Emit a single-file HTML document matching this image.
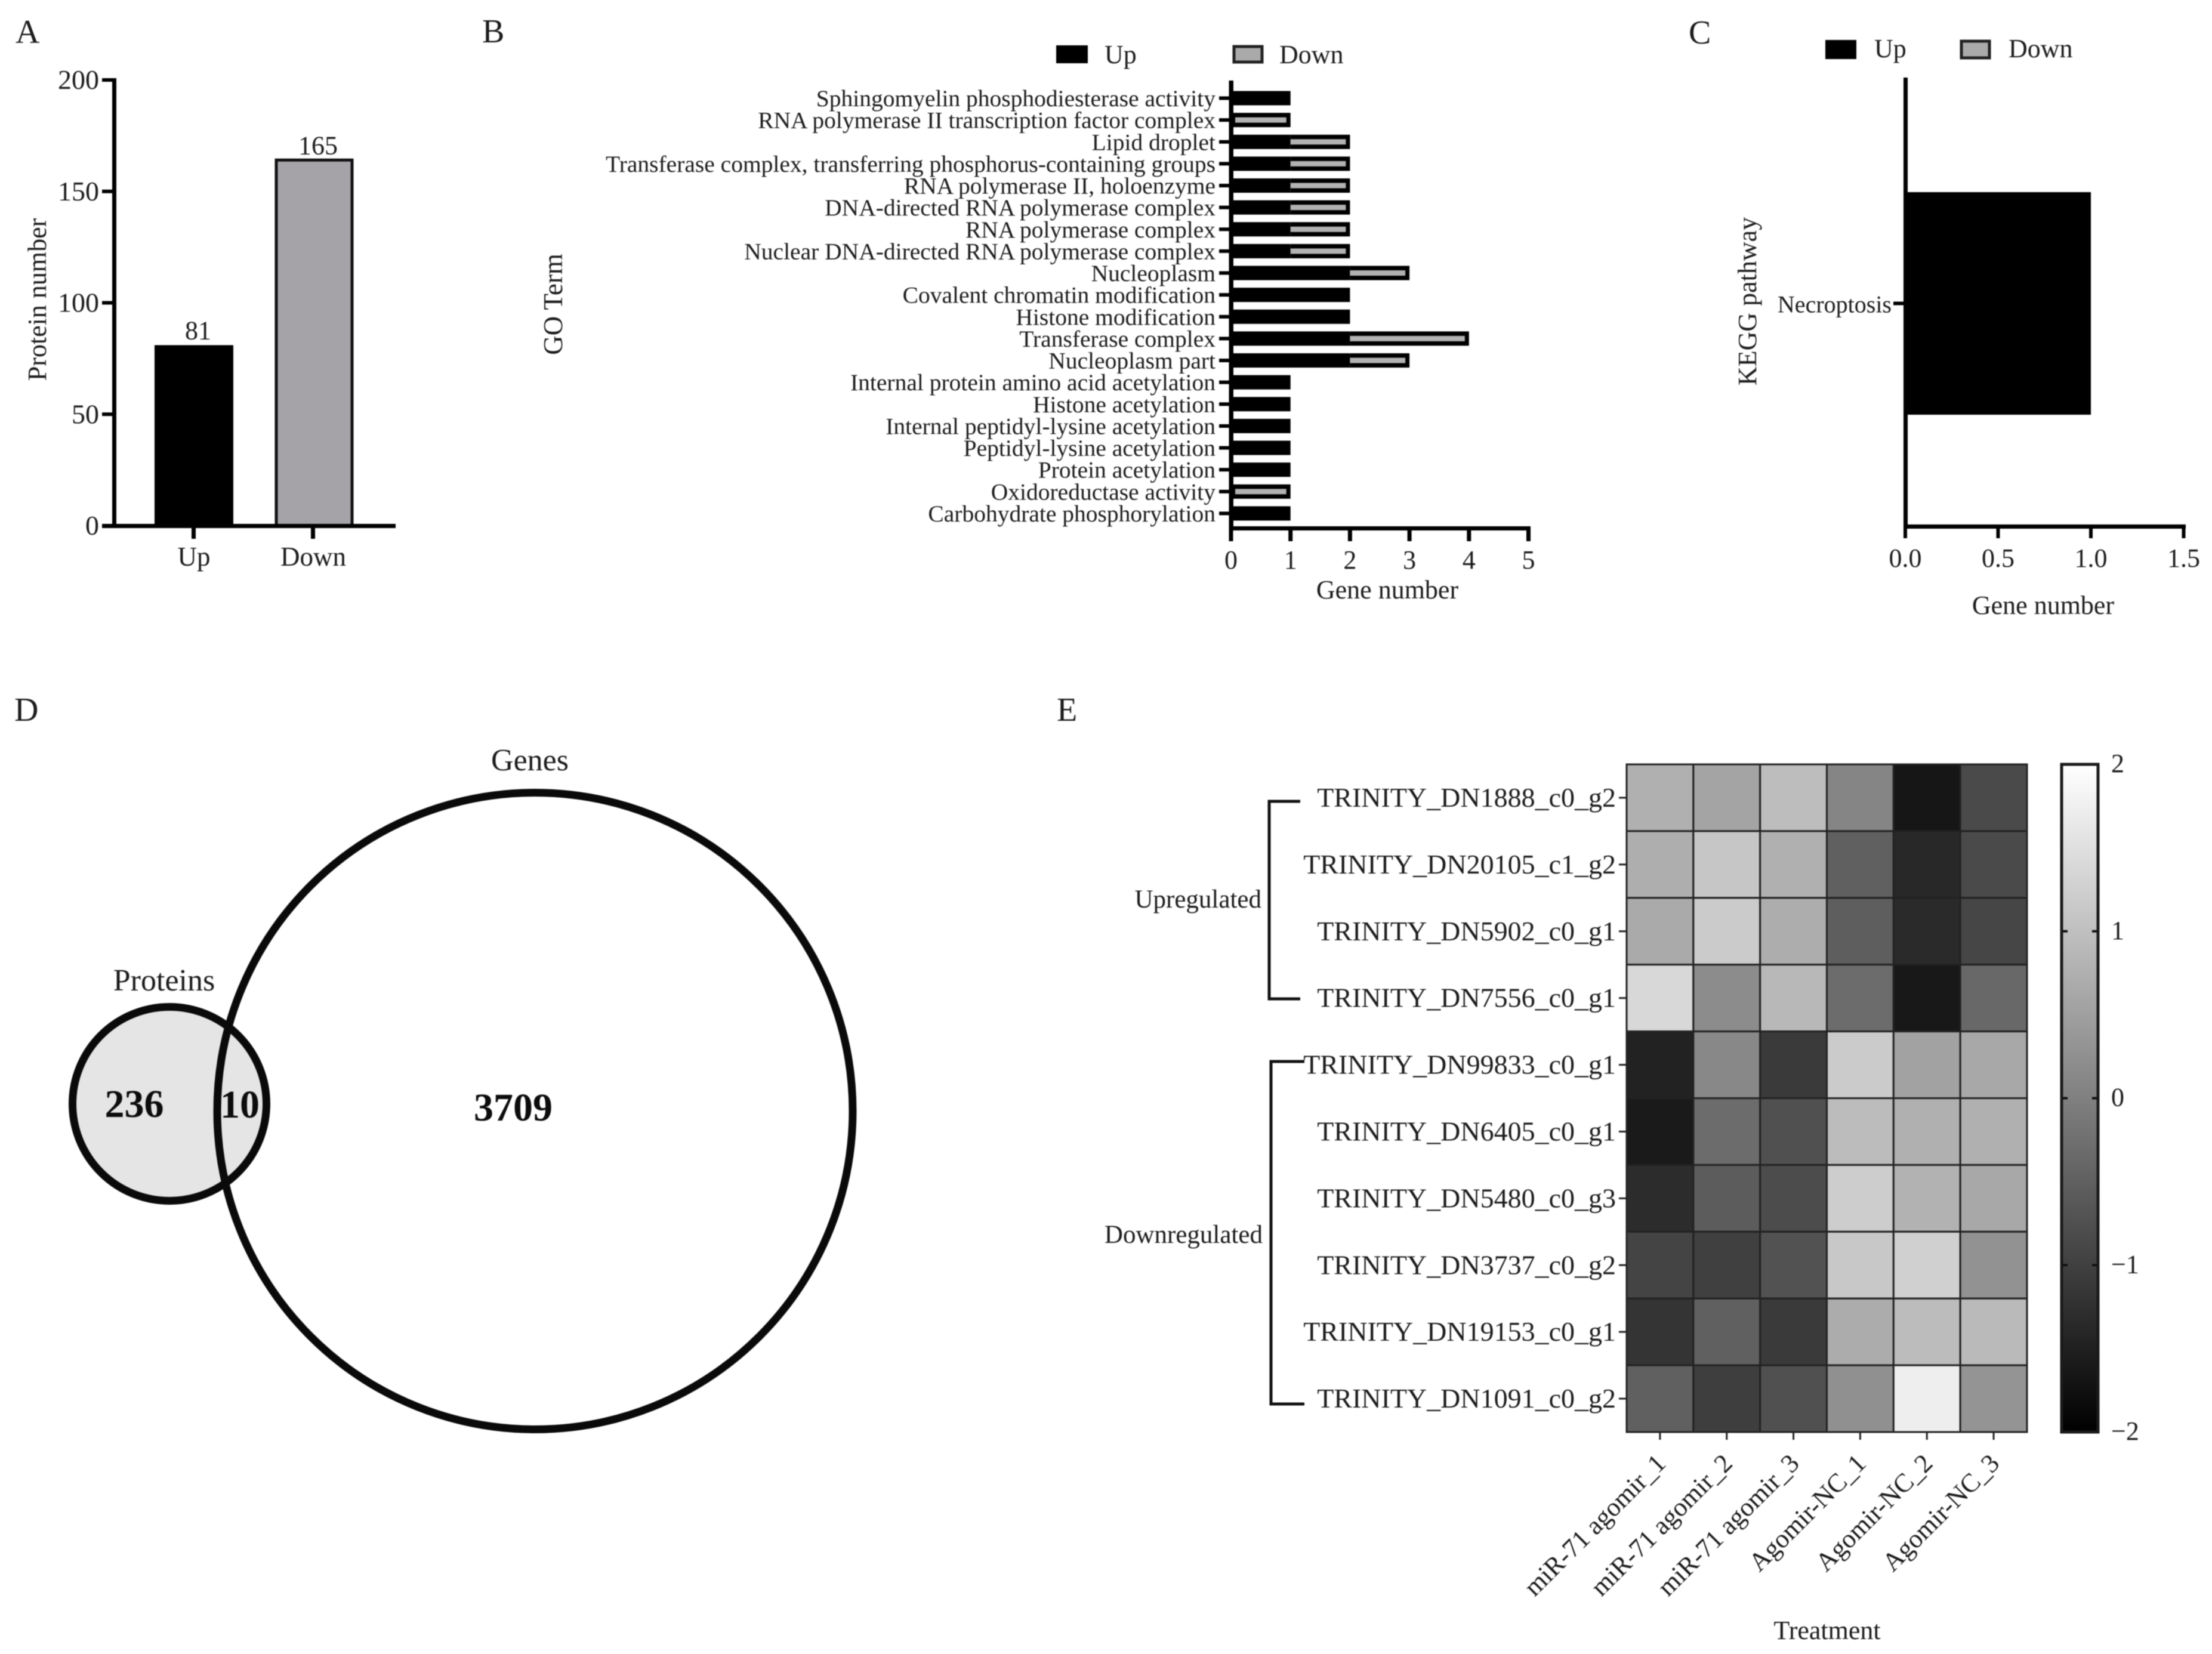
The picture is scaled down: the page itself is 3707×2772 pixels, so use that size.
<!DOCTYPE html>
<html lang="en">
<head>
<meta charset="utf-8">
<title>Multi-panel proteomics and transcriptomics figure</title>
<style>
html,body{margin:0;padding:0;background:#fff;}
svg{display:block;font-family:"Liberation Serif",serif;filter:blur(0.9px);}
text{fill:#1c1c1c;}
.lab{font-size:56px;}
</style>
</head>
<body>
<svg id="fig" xmlns="http://www.w3.org/2000/svg" width="3707" height="2772" viewBox="0 0 3707 2772">
  <defs>
    <linearGradient id="cbar" x1="0" y1="1" x2="0" y2="0">
      <stop offset="0" stop-color="#000"/>
      <stop offset="1" stop-color="#fff"/>
    </linearGradient>
  </defs>
  <rect x="0" y="0" width="3707" height="2772" fill="#fff"/>

  <!-- Panel letters -->
  <text class="lab" x="26" y="72">A</text>
  <text class="lab" x="808" y="71">B</text>
  <text class="lab" x="2830" y="73">C</text>
  <text class="lab" x="24" y="1208">D</text>
  <text class="lab" x="1771" y="1208">E</text>

  <!-- Panel A -->
  <g id="panelA">
    <text transform="translate(77 502) rotate(-90)" text-anchor="middle" font-size="44">Protein number</text>
  </g>

  <!-- Panel B -->
  <g id="panelB">
    <rect x="1770" y="76" width="53" height="30" fill="#000"/>
    <text x="1851" y="106" font-size="44">Up</text>
    <rect x="2068" y="78" width="47" height="26" fill="#aaa" stroke="#222" stroke-width="5"/>
    <text x="2144" y="106" font-size="44">Down</text>
    <text transform="translate(942 510) rotate(-90)" text-anchor="middle" font-size="45">GO Term</text>
    <text x="2325" y="1003" text-anchor="middle" font-size="44">Gene number</text>
  </g>

  <!-- Panel C -->
  <g id="panelC">
    <rect x="3059" y="67" width="52" height="32" fill="#000"/>
    <text x="3141" y="96" font-size="44">Up</text>
    <rect x="3287" y="69" width="47" height="28" fill="#aaa" stroke="#222" stroke-width="5"/>
    <text x="3366" y="96" font-size="44">Down</text>
    <text transform="translate(2943 505) rotate(-90)" text-anchor="middle" font-size="44">KEGG pathway</text>
    <text x="3424" y="1029" text-anchor="middle" font-size="44">Gene number</text>
  </g>

  <!-- Panel D: Venn diagram -->
  <g id="panelD">
    <circle cx="284" cy="1850" r="162.5" fill="#e5e5e5" stroke="#0a0a0a" stroke-width="13"/>
    <ellipse cx="896.5" cy="1862" rx="532.5" ry="533.5" fill="none" stroke="#0a0a0a" stroke-width="13"/>
    <text x="888" y="1291" text-anchor="middle" font-size="52">Genes</text>
    <text x="275" y="1660" text-anchor="middle" font-size="52">Proteins</text>
    <text x="225" y="1872" text-anchor="middle" font-size="66" font-weight="bold" style="fill:#0c0c0c">236</text>
    <text x="402" y="1873" text-anchor="middle" font-size="66" font-weight="bold" style="fill:#0c0c0c">10</text>
    <text x="860" y="1878" text-anchor="middle" font-size="66" font-weight="bold" style="fill:#0c0c0c">3709</text>
  </g>

  <!-- Panel E: heatmap -->
  <g id="panelE">
    <path d="M2179 1343H2127V1674H2179" fill="none" stroke="#111" stroke-width="5"/>
    <path d="M2186 1779H2130V2353H2186" fill="none" stroke="#111" stroke-width="5"/>
    <text x="2114" y="1521" text-anchor="end" font-size="43">Upregulated</text>
    <text x="2116" y="2083" text-anchor="end" font-size="43">Downregulated</text>
    <text x="3062" y="2747" text-anchor="middle" font-size="44">Treatment</text>
    <rect x="3455" y="1281" width="61" height="1119" fill="url(#cbar)" stroke="#1a1a1a" stroke-width="5"/>
  </g>
</svg>

<script>
// Panel A data
const aCategories = ['Up', 'Down'];
const aValues = [81, 165];
const aTicks = [0, 50, 100, 150, 200];

// Panel B data
const bTerms = [
  'Sphingomyelin phosphodiesterase activity',
  'RNA polymerase II transcription factor complex',
  'Lipid droplet',
  'Transferase complex, transferring phosphorus-containing groups',
  'RNA polymerase II, holoenzyme',
  'DNA-directed RNA polymerase complex',
  'RNA polymerase complex',
  'Nuclear DNA-directed RNA polymerase complex',
  'Nucleoplasm',
  'Covalent chromatin modification',
  'Histone modification',
  'Transferase complex',
  'Nucleoplasm part',
  'Internal protein amino acid acetylation',
  'Histone acetylation',
  'Internal peptidyl-lysine acetylation',
  'Peptidyl-lysine acetylation',
  'Protein acetylation',
  'Oxidoreductase activity',
  'Carbohydrate phosphorylation'
];
const bUp = [1, 0, 1, 1, 1, 1, 1, 1, 2, 2, 2, 2, 2, 1, 1, 1, 1, 1, 0, 1];
const bDown = [0, 1, 1, 1, 1, 1, 1, 1, 1, 0, 0, 2, 1, 0, 0, 0, 0, 0, 1, 0];
const bTicks = [0, 1, 2, 3, 4, 5];

// Panel C data
const cPathways = ['Necroptosis'];
const cUp = [1];
const cDown = [0];
const cTicks = [0, 0.5, 1, 1.5];

// Panel E data
const eRows = [
  'TRINITY_DN1888_c0_g2', 'TRINITY_DN20105_c1_g2', 'TRINITY_DN5902_c0_g1', 'TRINITY_DN7556_c0_g1',
  'TRINITY_DN99833_c0_g1', 'TRINITY_DN6405_c0_g1', 'TRINITY_DN5480_c0_g3', 'TRINITY_DN3737_c0_g2',
  'TRINITY_DN19153_c0_g1', 'TRINITY_DN1091_c0_g2'
];
const eCols = ['miR-71 agomir_1', 'miR-71 agomir_2', 'miR-71 agomir_3', 'Agomir-NC_1', 'Agomir-NC_2', 'Agomir-NC_3'];
const eValues = [
  [0.76, 0.57, 0.96, 0.09, -1.65, -0.84],
  [0.73, 1.11, 0.76, -0.49, -1.37, -0.84],
  [0.67, 1.18, 0.71, -0.53, -1.34, -0.90],
  [1.39, 0.20, 0.89, -0.31, -1.62, -0.37],
  [-1.47, 0.13, -1.09, 1.18, 0.54, 0.64],
  [-1.59, -0.31, -0.75, 0.95, 0.76, 0.76],
  [-1.31, -0.56, -0.81, 1.22, 0.79, 0.64],
  [-0.93, -1.00, -0.71, 1.14, 1.26, 0.29],
  [-1.18, -0.49, -1.09, 0.70, 0.95, 0.92],
  [-0.49, -1.03, -0.75, 0.26, 1.73, 0.32]
];
const eScaleTicks = [2, 1, 0, -1, -2];

// Axis functions
const aY = v => 881 - v * 3.735;
const aX = i => 324 + i * 200;
const bX = v => 2063 + v * 99.7;
const bY = i => 164.5 + i * 36.63;
const cX = v => 3193 + v * 311;
const cY = i => 508.5 + i * 373;
const eX = j => 2726 + j * 111.83;
const eY = i => 1281 + i * 111.9;
const eGray = v => Math.max(0, Math.min(255, Math.round((v + 2) / 4 * 255)));
const eScaleY = v => 1840.5 - v * 279.75;

const SVGNS = 'http://www.w3.org/2000/svg';
function add(parent, tag, attrs, text) {
  const node = document.createElementNS(SVGNS, tag);
  for (const k in attrs) node.setAttribute(k, attrs[k]);
  if (text !== undefined) node.textContent = text;
  parent.appendChild(node);
  return node;
}
let el;

// ---------- Panel A ----------
const pA = document.getElementById('panelA');
aValues.forEach((v, i) => {
  if (i === 0) {
    el = add(pA, 'rect', {x: aX(i) - 65, y: aY(v), width: 132, height: aY(0) - aY(v), fill: '#000'});
    
    
  } else {
    el = add(pA, 'rect', {x: aX(i) - 61, y: aY(v) + 3.5, width: 127, height: aY(0) - aY(v) - 3.5, fill: '#a5a3a8', stroke: '#111', 'stroke-width': 5});
    
    
  }
  el = add(pA, 'text', {x: aX(i) + (i === 0 ? 8 : 9), y: aY(v) - (i === 0 ? 10 : 6), 'text-anchor': 'middle', 'font-size': 44}, String(v));
  
  
  el = add(pA, 'rect', {x: aX(i) - 3, y: aY(0), width: 7, height: 22, fill: '#000'});
  
  
  el = add(pA, 'text', {x: aX(i) + 1, y: 948, 'text-anchor': 'middle', 'font-size': 45}, aCategories[i]);
  
  
});
el = add(pA, 'rect', {x: 188, y: aY(200) - 3, width: 7, height: aY(0) - aY(200) + 6, fill: '#000'});


el = add(pA, 'rect', {x: 171, y: aY(0) - 3, width: 492, height: 7, fill: '#000'});


aTicks.forEach(t => {
  el = add(pA, 'rect', {x: 171, y: aY(t) - 3, width: 20, height: 6, fill: '#000'});
  
  
  el = add(pA, 'text', {x: 166, y: aY(t) + 15, 'text-anchor': 'end', 'font-size': 46}, String(t));
  
  
});

// ---------- Panel B ----------
const pB = document.getElementById('panelB');
bTerms.forEach((term, i) => {
  const cy = bY(i);
  if (bUp[i] > 0) {
    el = add(pB, 'rect', {x: bX(0), y: cy - 12, width: bX(bUp[i]) - bX(0), height: 24, fill: '#000'});
    
    
  }
  if (bDown[i] > 0) {
    el = add(pB, 'rect', {x: bX(bUp[i]), y: cy - 12, width: bX(bDown[i]) - bX(0), height: 24, fill: '#000'});
    
    
    const inset = bUp[i] > 0 ? 0 : 7;
    el = add(pB, 'rect', {x: bX(bUp[i]) + inset, y: cy - 4.5, width: bX(bDown[i]) - bX(0) - 7 - inset, height: 9, fill: '#b2b2b2'});
    
    
  }
  el = add(pB, 'rect', {x: 2043, y: cy - 3, width: 20, height: 6, fill: '#000'});
  
  
  el = add(pB, 'text', {x: 2037, y: cy + 13.5, 'text-anchor': 'end', 'font-size': 39.5}, term);
  
  
});
el = add(pB, 'rect', {x: 2059.5, y: 135, width: 7.5, height: 754, fill: '#000'});


el = add(pB, 'rect', {x: 2060, y: 882, width: 505, height: 7, fill: '#000'});


bTicks.forEach(t => {
  el = add(pB, 'rect', {x: bX(t) - 3.5, y: 885, width: 7, height: 22, fill: '#000'});
  
  
  el = add(pB, 'text', {x: bX(t), y: 953, 'text-anchor': 'middle', 'font-size': 44}, String(t));
  
  
});

// ---------- Panel C ----------
const pC = document.getElementById('panelC');
cPathways.forEach((name, i) => {
  if (cUp[i] > 0) {
    el = add(pC, 'rect', {x: cX(0), y: cY(i) - 186.5, width: cX(cUp[i]) - cX(0), height: 373, fill: '#000'});
    
    
  }
  if (cDown[i] > 0) {
    el = add(pC, 'rect', {x: cX(cUp[i]), y: cY(i) - 186.5, width: cX(cDown[i]) - cX(0), height: 373, fill: '#aaa', stroke: '#111', 'stroke-width': 6});
    
    
  }
  el = add(pC, 'rect', {x: 3173, y: cY(i) - 3, width: 20, height: 6, fill: '#000'});
  
  
  el = add(pC, 'text', {x: 3170, y: cY(i) + 15, 'text-anchor': 'end', 'font-size': 40}, name);
  
  
});
el = add(pC, 'rect', {x: 3190, y: 130, width: 7, height: 756, fill: '#000'});


el = add(pC, 'rect', {x: 3190, y: 879, width: 473, height: 7, fill: '#000'});


cTicks.forEach(t => {
  el = add(pC, 'rect', {x: cX(t) - 3, y: 882, width: 6, height: 20, fill: '#000'});
  
  
  el = add(pC, 'text', {x: cX(t), y: 950, 'text-anchor': 'middle', 'font-size': 44}, t.toFixed(1));
  
  
});

// ---------- Panel E ----------
const pE = document.getElementById('panelE');
eValues.forEach((row, i) => {
  row.forEach((v, j) => {
    const g = eGray(v);
    el = add(pE, 'rect', {x: eX(j), y: eY(i), width: eX(j + 1) - eX(j), height: eY(i + 1) - eY(i), fill: 'rgb(' + g + ',' + g + ',' + g + ')', stroke: '#222', 'stroke-width': 3});
    
    
  });
});
eRows.forEach((name, i) => {
  const cy = eY(i + 0.5);
  el = add(pE, 'rect', {x: 2713, y: cy - 1.5, width: 13, height: 3, fill: '#222'});
  
  
  el = add(pE, 'text', {x: 2708, y: cy + 15, 'text-anchor': 'end', 'font-size': 46}, name);
  
  
});
eCols.forEach((name, j) => {
  const cx = eX(j + 0.5);
  el = add(pE, 'rect', {x: cx - 1.5, y: eY(10), width: 3, height: 13, fill: '#222'});
  
  
  const tx = cx + 12;
  const ty = 2455;
  el = add(pE, 'text', {x: tx, y: ty, 'text-anchor': 'end', 'font-size': 44, transform: 'rotate(-45 ' + tx + ' ' + ty + ')'}, name);
  
  
});
eScaleTicks.forEach(t => {
  const y = eScaleY(t);
  if (Math.abs(t) < 2) {
    el = add(pE, 'rect', {x: 3457, y: y - 2, width: 8, height: 4, fill: '#111'});
    
    
    el = add(pE, 'rect', {x: 3506, y: y - 2, width: 8, height: 4, fill: '#111'});
    
    
  }
  el = add(pE, 'text', {x: 3538, y: y + 13, 'font-size': 44}, (t < 0 ? '\u2212' : '') + Math.abs(t));
  
  
});
</script>
</body>
</html>
